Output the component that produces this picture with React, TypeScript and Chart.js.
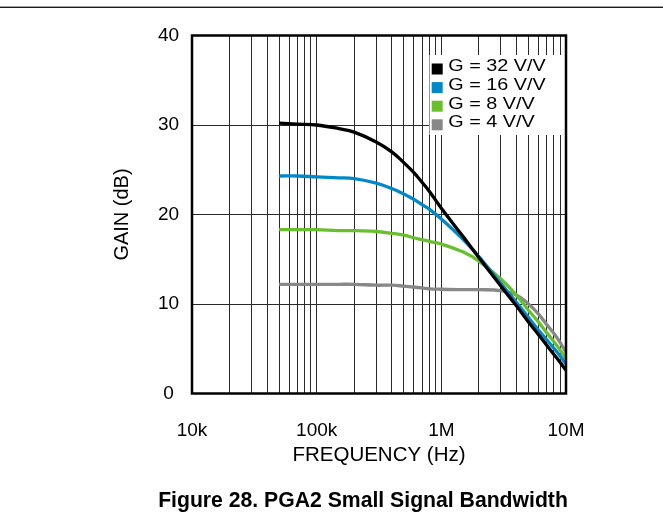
import { useEffect, useRef } from "react";
import { Chart, registerables } from "chart.js";

Chart.register(...registerables);

// ---- data ----
const freqHz = [
  5e4, 7e4, 1e5, 1.5e5, 2e5, 3e5, 4e5, 5e5, 6e5, 7e5, 8e5, 1e6, 1.5e6, 2e6, 3e6, 4e6, 5e6, 6e6, 7e6, 8.5e6, 1e7,
];
const gain32 = [30.2, 30.1, 30.0, 29.6, 29.2, 28.1, 27.0, 25.8, 24.7, 23.6, 22.6, 20.7, 17.5, 15.2, 12.0, 9.8, 8.0, 6.6, 5.4, 3.9, 2.6];
const gain16 = [24.3, 24.3, 24.2, 24.1, 24.0, 23.5, 22.9, 22.3, 21.7, 21.1, 20.6, 19.5, 17.2, 15.3, 12.3, 10.2, 8.5, 7.1, 6.0, 4.6, 3.3];
const gain8 = [18.3, 18.3, 18.3, 18.2, 18.2, 18.1, 17.9, 17.7, 17.4, 17.2, 17.0, 16.7, 15.8, 14.8, 12.8, 11.0, 9.3, 8.0, 6.8, 5.3, 3.9];
const gain4 = [12.2, 12.2, 12.2, 12.2, 12.2, 12.1, 12.1, 12.0, 11.9, 11.8, 11.7, 11.65, 11.6, 11.6, 11.5, 11.0, 10.0, 8.9, 7.7, 6.2, 4.6];

const seriesLabels = ["G = 32 V/V", "G = 16 V/V", "G = 8 V/V", "G = 4 V/V"];
const seriesColors = ["#000000", "#0088C9", "#6ABF2E", "#888888"];

const xMajorValues = [1e4, 1e5, 1e6, 1e7];
const xMajorLabels = ["10k", "100k", "1M", "10M"];
const yTickValues = [0, 10, 20, 30, 40];

const xAxisTitle = "FREQUENCY (Hz)";
const yAxisTitle = "GAIN (dB)";
const figureTitle = "Figure 28. PGA2 Small Signal Bandwidth";

const FONT = "'Liberation Sans', Arial, Helvetica, sans-serif";

// gridline positions: 1..9 x each decade
const xGridValues: number[] = [];
for (let d = 0; d < xMajorValues.length - 1; d++) {
  for (let m = 1; m <= 9; m++) xGridValues.push(m * xMajorValues[d]);
}
xGridValues.push(xMajorValues[xMajorValues.length - 1]);

const seriesValues = [gain32, gain16, gain8, gain4];

const decorPlugin = {
  id: "decor",
  afterDraw(chart: any) {
    const { ctx, chartArea } = chart;
    const { left, right, top, bottom } = chartArea;
    ctx.save();

    // legend box
    const boxL = right - 136.5;
    const boxT = top + 19.5;
    ctx.fillStyle = "#ffffff";
    ctx.fillRect(boxL, boxT, right - boxL, 80);
    chart.data.datasets.forEach((ds: any, i: number) => {
      const cy = top + 31.3 + i * 18.6;
      ctx.fillStyle = ds.borderColor;
      ctx.fillRect(boxL + 2.2, cy - 3.3, 11, 11);
      ctx.save();
      ctx.translate(boxL + 18.8, cy);
      ctx.scale(1.2, 1);
      ctx.fillStyle = "#000";
      ctx.font = `16.5px ${FONT}`;
      ctx.textBaseline = "middle";
      ctx.textAlign = "left";
      ctx.fillText(ds.label, 0, 0);
      ctx.restore();
    });

    // plot frame
    ctx.strokeStyle = "#000";
    ctx.lineWidth = 2.5;
    ctx.strokeRect(left, top, right - left, bottom - top);

    // separator line at top of page
    ctx.fillStyle = "#1a1a1a";
    ctx.fillRect(0, 6.6, chart.width, 1.4);

    // figure caption
    ctx.fillStyle = "#000";
    ctx.font = `bold 21.2px ${FONT}`;
    ctx.textAlign = "center";
    ctx.textBaseline = "alphabetic";
    ctx.fillText(figureTitle, 363, 506.5);
    ctx.restore();
  },
};

export default function App() {
  const ref = useRef<HTMLCanvasElement | null>(null);

  useEffect(() => {
    if (!ref.current) return;
    const chart = new Chart(ref.current, {
      type: "line",
      data: {
        datasets: seriesLabels.map((label, i) => ({
          label,
          data: freqHz.map((f, k) => ({ x: f, y: seriesValues[i][k] })),
          borderColor: seriesColors[i],
          backgroundColor: seriesColors[i],
          borderWidth: 3.3,
          pointRadius: 0,
          fill: false,
          tension: 0.4,
        })),
      },
      options: {
        animation: false,
        responsive: false,
        events: [],
        layout: { padding: { top: 35.5, left: 107, right: 97, bottom: 54.5 } },
        plugins: {
          legend: { display: false },
          title: { display: false },
          tooltip: { enabled: false },
        },
        scales: {
          x: {
            type: "logarithmic",
            min: 1e4,
            max: 1e7,
            afterBuildTicks: (scale: any) => {
              scale.ticks = xGridValues.map((v) => ({ value: v }));
            },
            afterFit: (scale: any) => {
              scale.height = 75;
            },
            grid: { color: "#2a2a2a", lineWidth: 1, drawTicks: false },
            border: { display: false },
            ticks: {
              autoSkip: false,
              maxRotation: 0,
              minRotation: 0,
              padding: 26.1,
              color: "#000",
              font: { family: FONT, size: 19 },
              callback: (value: any) => {
                const v = Number(value);
                const i = xMajorValues.findIndex((m) => Math.abs(m - v) / m < 1e-6);
                return i >= 0 ? xMajorLabels[i] : "";
              },
            },
            title: {
              display: true,
              text: xAxisTitle,
              color: "#000",
              font: { family: FONT, size: 20.5 },
              padding: { top: 0, bottom: 0.7 },
            },
          },
          y: {
            type: "linear",
            min: 0,
            max: 40,
            afterBuildTicks: (scale: any) => {
              scale.ticks = yTickValues.map((v) => ({ value: v }));
            },
            afterFit: (scale: any) => {
              scale.width = 85;
            },
            grid: { color: "#2a2a2a", lineWidth: 1, drawTicks: false },
            border: { display: false },
            ticks: {
              padding: 12.9,
              crossAlign: "center",
              color: "#000",
              font: { family: FONT, size: 19 },
            },
            title: {
              display: true,
              text: yAxisTitle,
              color: "#000",
              font: { family: FONT, size: 20 },
              padding: { top: 3, bottom: 0 },
            },
          },
        },
      },
      plugins: [decorPlugin],
    });
    return () => chart.destroy();
  }, []);

  return (
    <div style={{ position: "absolute", left: 0, top: 0, width: 663, height: 523, background: "#fff" }}>
      <canvas ref={ref} width={663} height={523} style={{ display: "block" }} />
    </div>
  );
}
